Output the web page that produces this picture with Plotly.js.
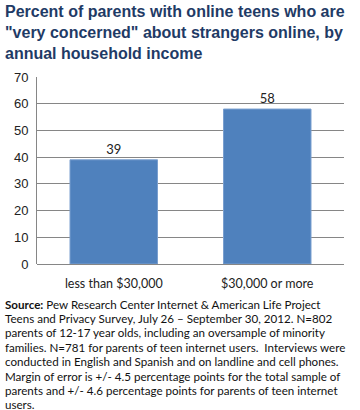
<!DOCTYPE html>
<html><head><meta charset="utf-8">
<script src="https://cdn.plot.ly/plotly-3.0.1.min.js"></script>
<style>html,body{margin:0;padding:0;background:#fff;}#chart{width:360px;height:410px;}</style>
</head><body><div id="chart"></div>
<script>
var categories = ["less than $30,000", "$30,000 or more"];
var values = [39, 58];
var valueLabels = ["39", "58"];
var yTicks = [0, 10, 20, 30, 40, 50, 60, 70];
var titleLines = [
  "Percent of parents with online teens who are",
  "\"very concerned\" about strangers online, by",
  "annual household income"
];
var sourceLines = [
  "<b>Source:</b> Pew Research Center Internet & American Life Project",
  "Teens and Privacy Survey, July 26 \u2013 September 30, 2012. N=802",
  "parents of 12-17 year olds, including an oversample of minority",
  "families. N=781 for parents of teen internet users.  Interviews were",
  "conducted in English and Spanish and on landline and cell phones.",
  "Margin of error is +/- 4.5 percentage points for the total sample of",
  "parents and +/- 4.6 percentage points for parents of teen internet",
  "users."
];

var plotTop = 77, plotBottom = 264, plotH = plotBottom - plotTop, plotL = 37, plotW = 360 - 37 - 16;
function py(pix) { return (plotBottom - pix) / plotH; }
function px(pix) { return (pix - plotL) / plotW; }

var trace = {
  type: "bar",
  x: categories,
  y: values,
  text: valueLabels,
  textposition: "outside",
  cliponaxis: false,
  textfont: {family: "Lato, 'Liberation Sans', sans-serif", size: 13, color: "#222"},
  marker: {color: "#4F81BD", line: {color: "#7a9fcf", width: 1}},
  hoverinfo: "none"
};

var annotations = [];
titleLines.forEach(function (t, i) {
  annotations.push({
    text: "<b>" + t + "</b>", xref: "paper", yref: "paper",
    x: px(3), y: py(12 + i * 21), xanchor: "left", yanchor: "middle",
    align: "left", showarrow: false,
    font: {family: "'Liberation Sans', Arial, sans-serif", size: 16, color: "#1F3B66"}
  });
});
sourceLines.forEach(function (t, i) {
  annotations.push({
    text: t, xref: "paper", yref: "paper",
    x: px(3), y: py(304 + i * 14.4), xanchor: "left", yanchor: "middle",
    align: "left", showarrow: false,
    font: {family: "Lato, 'Liberation Sans', sans-serif", size: 11.6, color: "#111"}
  });
});

var layout = {
  width: 360, height: 410,
  margin: {l: 37, r: 16, t: 77, b: 146},
  paper_bgcolor: "#fff", plot_bgcolor: "#fff",
  showlegend: false,
  bargap: 0.43,
  xaxis: {
    type: "category",
    showline: false, showgrid: false,
    ticks: "outside", ticklen: 8, tickcolor: "rgba(0,0,0,0)",
    tickfont: {family: "Lato, 'Liberation Sans', sans-serif", size: 12.5, color: "#222"},
    fixedrange: true
  },
  yaxis: {
    range: [0, 70],
    tickvals: yTicks,
    ticktext: yTicks.map(String),
    showgrid: true, gridcolor: "#868686", gridwidth: 1,
    showline: true, linecolor: "#868686", linewidth: 1,
    zeroline: true, zerolinecolor: "#868686", zerolinewidth: 1,
    ticks: "outside", ticklen: 5, tickcolor: "rgba(0,0,0,0)",
    tickfont: {family: "'Liberation Sans', Arial, sans-serif", size: 13, color: "#222"},
    fixedrange: true
  },
  annotations: annotations
};

Plotly.newPlot("chart", [trace], layout, {displayModeBar: false, staticPlot: true});
</script>
</body></html>
